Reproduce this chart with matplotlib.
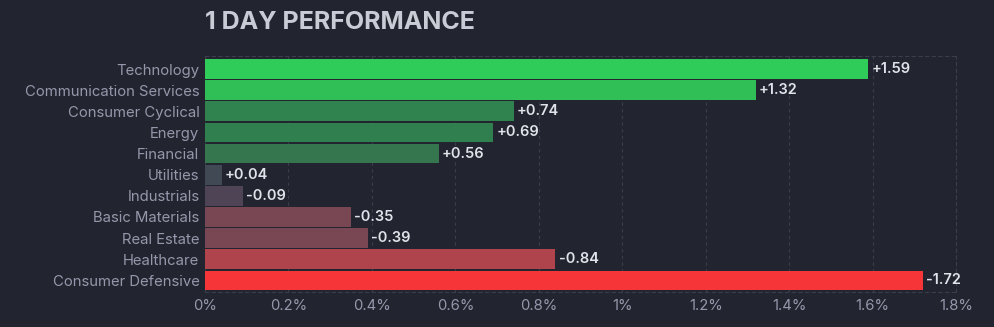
import numpy as np
import matplotlib
matplotlib.use('Agg')
import matplotlib.pyplot as plt
from matplotlib.ticker import FuncFormatter

# sector performance, 1 day
sectors = ['Technology', 'Communication Services', 'Consumer Cyclical', 'Energy',
           'Financial', 'Utilities', 'Industrials', 'Basic Materials',
           'Real Estate', 'Healthcare', 'Consumer Defensive']
change = [1.59, 1.32, 0.74, 0.69, 0.56, 0.04, -0.09, -0.35, -0.39, -0.84, -1.72]
colors = ['#30cc5a', '#2fbf56', '#30824e', '#307f4e', '#35764e', '#414a54',
          '#4f4356', '#794654', '#794654', '#b0444c', '#f63538']
xticks = [0, 0.2, 0.4, 0.6, 0.8, 1.0, 1.2, 1.4, 1.6, 1.8]

bg = '#22252f'
plt.rcParams['font.family'] = ['Inter', 'DejaVu Sans']

fig = plt.figure(figsize=(9.94, 3.27), dpi=100, facecolor=bg)
ax = fig.add_axes([0.2062, 0.107, 0.7556, 0.722], facecolor=bg)

y = np.arange(len(sectors))
vals = np.abs(change)
ax.barh(y, vals, height=0.93, color=colors, zorder=3)

for yi, v, c in zip(y, vals, change):
    ax.text(v + 0.008, yi, '%+.2f' % c, va='center', ha='left',
            color='#e2e3ea', fontsize=10.5, fontweight='semibold', zorder=4)

ax.set_xlim(0, 1.8)
ax.set_ylim(len(sectors) - 0.45, -0.62)
ax.set_yticks(y)
ax.set_yticklabels(sectors)
ax.set_xticks(xticks)
ax.xaxis.set_major_formatter(FuncFormatter(lambda v, p: '%g%%' % round(v, 1)))
ax.tick_params(axis='both', length=0, colors='#9598ab', labelsize=10.7)
ax.tick_params(axis='y', pad=4)
ax.tick_params(axis='x', pad=5)

ax.grid(axis='x', color='#3a3e4b', linestyle=(0, (3, 3)), linewidth=0.8, zorder=0)
for s in ['top', 'right', 'bottom']:
    ax.spines[s].set_color('#3a3e4b')
    ax.spines[s].set_linestyle((0, (3, 3)))
    ax.spines[s].set_linewidth(0.8)
ax.spines['left'].set_visible(False)

fig.text(0.2062, 0.93, '1 DAY PERFORMANCE', color='#c9cbd5', fontsize=18,
         fontweight='bold', va='center', ha='left')

fig.savefig('out.png', dpi=100, facecolor=bg)
